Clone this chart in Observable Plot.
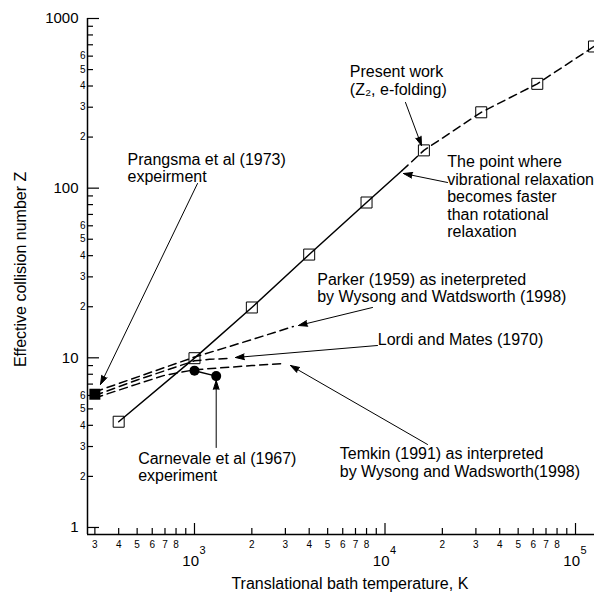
<!DOCTYPE html>
<html>
<head>
<meta charset="utf-8">
<script src="https://cdn.jsdelivr.net/npm/d3@7"></script>
<script src="https://cdn.jsdelivr.net/npm/@observablehq/plot@0.6"></script>
<style>
  html, body { margin: 0; padding: 0; background: #fff; overflow: hidden; }
</style>
</head>
<body>
<div id="chart"></div>
<script>
// Present work: effective collision number Z2 (e-folding) against bath temperature (K)
const presentT = [400, 1000, 2000, 4000, 8000, 16000, 32000, 63000, 125000];
const presentZ = [4.2, 9.95, 19.8, 40.6, 82.3, 167, 280, 412, 684];
// where vibrational relaxation becomes faster than rotational relaxation
const crossoverT = 12300;
const crossoverZ = 127;

// Parker (1959) as interpreted by Wysong and Wadsworth (1998)
const parkerT = [300, 1000, 2000, 3300];
const parkerZ = [6.3, 10.1, 12.8, 15.3];
// Lordi and Mates (1970)
const lordiT = [300, 500, 700, 1000, 1200, 1500];
const lordiZ = [6.0, 7.4, 8.4, 9.6, 9.8, 9.9];
// Temkin (1991) as interpreted by Wysong and Wadsworth (1998)
const temkinT = [300, 500, 700, 1000, 2000, 2900];
const temkinZ = [5.8, 7.0, 7.9, 8.5, 9.0, 9.25];
// Carnevale et al (1967) experiment
const carnevaleT = [1000, 1300];
const carnevaleZ = [8.4, 7.8];
// Prangsma et al (1973) experiment
const prangsmaT = [300];
const prangsmaZ = [6.1];

// Axis extents and ticks
const xDomain = [274.4, 125800];
const yDomain = [0.909, 1000];
const xDecades = [100, 1000, 10000];
const yDecades = [1, 10, 100];
const mantissas = [2, 3, 4, 5, 6, 7, 8, 9];
const xMinorLabeled = [2, 3, 4, 5, 6, 7, 8];
const yMinorLabeled = [2, 3, 4, 5, 6];
const xMajor = [1000, 10000, 100000];
const xMajorExponent = ["3", "4", "5"];
const yMajor = [1, 10, 100, 1000];
const yMajorText = ["1", "10", "100", "1000"];

const xTitle = "Translational bath temperature, K";
const xTitleT = 6540;
const yTitle = "Effective collision number Z";
const yTitleZ = 33.2;

// Callout texts, placed by the baseline of their last line
const noteText = [
  "Prangsma et al (1973)\nexpeirment",
  "Present work\n(Z\u2082, e-folding)",
  "The point where\nvibrational relaxation\nbecomes faster\nthan rotational\nrelaxation",
  "Parker (1959) as ineterpreted\nby Wysong and Watdsworth (1998)",
  "Lordi and Mates (1970)",
  "Temkin (1991) as interpreted\nby Wysong and Wadsworth(1998)",
  "Carnevale et al (1967)\nexperiment"
];
const noteT = [445, 6535, 21210, 4407, 9167, 5789, 506];
const noteZ = [108, 356, 51.2, 21.2, 11.82, 1.99, 1.875];

// Leader arrows from each callout to its curve
const arrowFromT = [1037, 12810, 21290, 8600, 9133, 16715, 1300];
const arrowFromZ = [106.5, 320, 108, 19.8, 11.82, 3.085, 2.96];
const arrowToT = [321, 15545, 12505, 3515, 1641, 3190, 1300];
const arrowToZ = [6.96, 178.4, 122, 15.5, 10.04, 9.01, 7.35];

const zip = (T, Z) => T.map((t, i) => ({T: t, Z: Z[i]}));
const present = zip(presentT, presentZ);
const presentSolid = [...present.filter(d => d.T < crossoverT), {T: crossoverT, Z: crossoverZ}];
const presentDashed = [{T: crossoverT, Z: crossoverZ}, ...present.filter(d => d.T > crossoverT)];
const parker = zip(parkerT, parkerZ);
const lordi = zip(lordiT, lordiZ);
const temkin = zip(temkinT, temkinZ);
const carnevale = zip(carnevaleT, carnevaleZ);
const prangsma = zip(prangsmaT, prangsmaZ);

const notes = noteText.map((text, i) => ({text, T: noteT[i], Z: noteZ[i]}));
const arrows = arrowFromT.map((t, i) => ({T1: t, Z1: arrowFromZ[i], T2: arrowToT[i], Z2: arrowToZ[i]}));

const xMinor = xDecades.flatMap(d => mantissas.map(m => ({v: m * d, m})))
  .filter(d => d.v >= xDomain[0] && d.v <= xDomain[1]);
const yMinor = yDecades.flatMap(d => mantissas.map(m => ({v: m * d, m})));

const dash = "8,5";
const fontFamily = "'Liberation Sans', Arial, Helvetica, sans-serif";

const chart = Plot.plot({
  width: 594,
  height: 593,
  marginLeft: 87,
  marginRight: 0,
  marginTop: 18,
  marginBottom: 59,
  style: {fontFamily, fontSize: "16px", background: "#fff", color: "#000"},
  x: {type: "log", domain: xDomain, axis: null},
  y: {type: "log", domain: yDomain, axis: null},
  marks: [
    // axis lines
    Plot.ruleX([xDomain[0]], {strokeWidth: 1.5}),
    Plot.ruleY([yDomain[0]], {strokeWidth: 1.5}),
    // inward ticks
    Plot.ruleY(yMinor, {y: "v", x1: xDomain[0], x2: xDomain[0], insetRight: -6, strokeWidth: 1.2}),
    Plot.ruleY(yMajor, {y: d => d, x1: xDomain[0], x2: xDomain[0], insetRight: -12, strokeWidth: 1.2}),
    Plot.ruleX(xMinor, {x: "v", y1: yDomain[0], y2: yDomain[0], insetTop: -6, strokeWidth: 1.2}),
    Plot.ruleX(xMajor, {x: d => d, y1: yDomain[0], y2: yDomain[0], insetTop: -11, strokeWidth: 1.2}),
    // tick labels
    Plot.text(yMajor, {x: xDomain[0], y: d => d, text: (d, i) => yMajorText[i], textAnchor: "end", dx: -9, fontSize: 15}),
    Plot.text(yMinor.filter(d => yMinorLabeled.includes(d.m)), {x: xDomain[0], y: "v", text: d => String(d.m), textAnchor: "end", dx: -2, fontSize: 10}),
    Plot.text(xMinor.filter(d => xMinorLabeled.includes(d.m)), {x: "v", y: yDomain[0], text: d => String(d.m), lineAnchor: "top", dy: 6, fontSize: 10}),
    Plot.text(xMajor, {x: d => d, y: yDomain[0], text: () => "10", textAnchor: "end", dx: 4.5, lineAnchor: "bottom", dy: 31, fontSize: 15}),
    Plot.text(xMajor, {x: d => d, y: yDomain[0], text: (d, i) => xMajorExponent[i], textAnchor: "start", dx: 5, lineAnchor: "bottom", dy: 19, fontSize: 11}),
    // axis titles
    Plot.text([xTitle], {x: xTitleT, y: yDomain[0], text: d => d, dy: 54, lineAnchor: "bottom", fontSize: 16}),
    Plot.text([yTitle], {x: xDomain[0], y: yTitleZ, text: d => d, rotate: -90, dx: -62, lineAnchor: "bottom", fontSize: 16}),
    // curves
    Plot.line(presentSolid, {x: "T", y: "Z", strokeWidth: 1.5}),
    Plot.line(presentDashed, {x: "T", y: "Z", strokeWidth: 1.5, strokeDasharray: dash}),
    Plot.line(parker, {x: "T", y: "Z", strokeWidth: 1.5, strokeDasharray: dash}),
    Plot.line(lordi, {x: "T", y: "Z", strokeWidth: 1.5, strokeDasharray: dash}),
    Plot.line(temkin, {x: "T", y: "Z", strokeWidth: 1.5, strokeDasharray: dash}),
    Plot.line(carnevale, {x: "T", y: "Z", strokeWidth: 1.5}),
    // symbols
    Plot.dot(present, {x: "T", y: "Z", symbol: "square", r: 6.2, stroke: "#000", fill: "none", strokeWidth: 1}),
    Plot.dot(prangsma, {x: "T", y: "Z", symbol: "square", r: 6.2, fill: "#000", stroke: "none"}),
    Plot.dot(carnevale, {x: "T", y: "Z", r: 5, fill: "#000", stroke: "none"}),
    // callouts
    Plot.arrow(arrows, {x1: "T1", y1: "Z1", x2: "T2", y2: "Z2", stroke: "#000", fill: "#000", strokeWidth: 1, headLength: 14, headAngle: 36}),
    Plot.text(notes, {x: "T", y: "Z", text: "text", textAnchor: "start", lineAnchor: "bottom", lineHeight: 1.1, fontSize: 16})
  ]
});

document.getElementById("chart").append(chart);
</script>
</body>
</html>
